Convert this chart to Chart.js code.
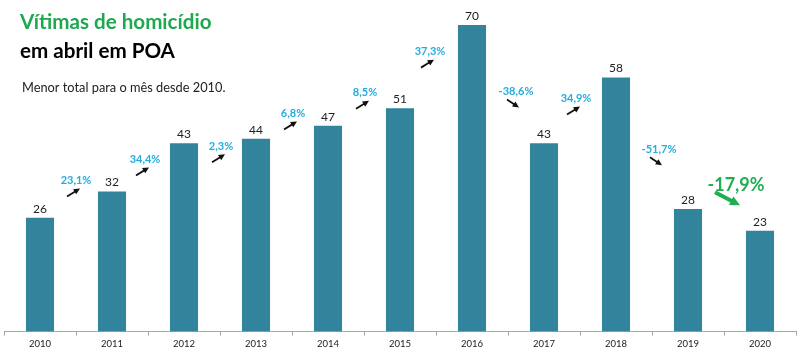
<!DOCTYPE html>
<html>
<head>
<meta charset="utf-8">
<script src="https://cdn.jsdelivr.net/npm/chart.js@4"></script>
<style>
  html, body { margin: 0; padding: 0; background: #fff; }
  #wrap { width: 800px; height: 351px; }
</style>
</head>
<body>
<div id="wrap"><canvas id="myChart"></canvas></div>
<script>
// data
const years = ["2010", "2011", "2012", "2013", "2014", "2015", "2016", "2017", "2018", "2019", "2020"];
const victims = [26, 32, 43, 44, 47, 51, 70, 43, 58, 28, 23];
const changes = ["23,1%", "34,4%", "2,3%", "6,8%", "8,5%", "37,3%", "-38,6%", "34,9%", "-51,7%", "-17,9%"];

// where each % note sits (value units on y, offset in px on x)
const noteY = [34.5, 39.3, 42.3, 49.8, 54.5, 63.9, 54.8, 53.2, 41.6, 33.4];
const noteDx = [0, -3, 1, 1, 1, -6, 8, -4, 7, 12];

const barColor = "#31849b";
const noteColor = "#25ace0";

function arrow(c, x1, y1, x2, y2, color, w, head) {
  c.save();
  c.strokeStyle = color;
  c.fillStyle = color;
  c.lineWidth = w;
  const a = Math.atan2(y2 - y1, x2 - x1);
  c.beginPath();
  c.moveTo(x1, y1);
  c.lineTo(x2 - Math.cos(a) * head * 0.6, y2 - Math.sin(a) * head * 0.6);
  c.stroke();
  c.beginPath();
  c.moveTo(x2, y2);
  c.lineTo(x2 - head * Math.cos(a - 0.45), y2 - head * Math.sin(a - 0.45));
  c.lineTo(x2 - head * Math.cos(a + 0.45), y2 - head * Math.sin(a + 0.45));
  c.closePath();
  c.fill();
  c.restore();
}

const notes = {
  id: "notes",
  afterDraw(chart) {
    const c = chart.ctx;
    const x = chart.scales.x;
    const y = chart.scales.y;
    const meta = chart.getDatasetMeta(0);

    // values above bars
    c.save();
    c.fillStyle = "#222";
    c.font = "12px Lato";
    c.textAlign = "center";
    c.textBaseline = "middle";
    meta.data.forEach((bar, i) => {
      c.fillText(victims[i], bar.x, bar.y - 9);
    });

    // % change between years
    changes.forEach((txt, i) => {
      const last = i === changes.length - 1;
      const cx = x.getPixelForValue(i + 0.5) + noteDx[i];
      const cy = y.getPixelForValue(noteY[i]);
      const up = victims[i + 1] >= victims[i];
      if (last) {
        c.fillStyle = "#1fae50";
        c.font = "bold 18px Lato";
        c.fillText(txt, cx, cy);
        arrow(c, cx - 21, cy + 7, cx + 4, cy + 20, "#1fae50", 4, 11);
      } else {
        c.fillStyle = noteColor;
        c.font = "bold 11px Lato";
        c.fillText(txt, cx, cy);
        if (up) {
          arrow(c, cx - 9, cy + 16, cx + 4, cy + 8, "#111", 1.8, 7);
        } else {
          arrow(c, cx - 9, cy + 8, cx + 3, cy + 16, "#111", 1.8, 7);
        }
      }
    });

    // heading
    c.textAlign = "left";
    c.textBaseline = "alphabetic";
    c.fillStyle = "#1fa84f";
    c.font = "bold 20.6px Lato";
    c.fillText("Vítimas de homicídio", 20, 29);
    c.fillStyle = "#000";
    c.fillText("em abril em POA", 20, 58);
    c.fillStyle = "#222";
    c.font = "12.8px Lato";
    c.fillText("Menor total para o mês desde 2010.", 22, 92);
    c.restore();
  }
};

new Chart(document.getElementById("myChart"), {
  type: "bar",
  data: {
    labels: years,
    datasets: [
      {
        data: victims,
        backgroundColor: barColor,
        categoryPercentage: 1,
        barPercentage: 0.39,
      },
    ],
  },
  options: {
    responsive: true,
    maintainAspectRatio: false,
    animation: false,
    layout: { padding: { top: 3, left: 4, right: 4, bottom: -2 } },
    plugins: {
      legend: { display: false },
      tooltip: { enabled: false },
    },
    scales: {
      y: { display: false, min: 0, max: 75 },
      x: {
        border: { display: true, color: "#a6a6a6" },
        grid: {
          display: true,
          drawOnChartArea: false,
          tickLength: 4,
          color: "#a6a6a6",
        },
        ticks: {
          color: "#222",
          padding: 3,
          font: { family: "Lato", size: 9.5 },
        },
      },
    },
  },
  plugins: [notes],
});
</script>
</body>
</html>
